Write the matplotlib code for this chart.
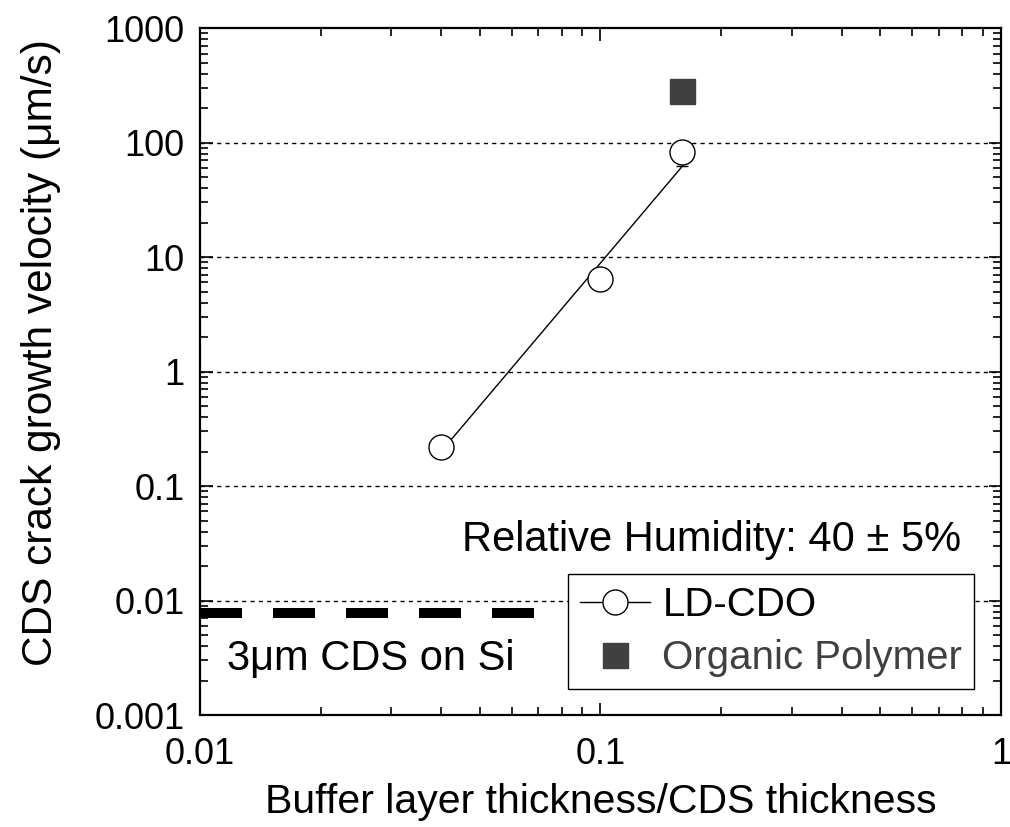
import matplotlib
matplotlib.use("Agg")
import matplotlib.pyplot as plt
from matplotlib.ticker import LogLocator, NullFormatter, FixedLocator, FixedFormatter

plt.rcParams["font.family"] = ["Liberation Sans", "DejaVu Sans"]

# ── data ────────────────────────────────────────────────────
ld_x = [0.04, 0.1, 0.16]
ld_y = [0.22, 6.5, 82]
fit_x = [0.04, 0.16]
fit_y = [0.2, 62]
poly_x = [0.16]
poly_y = [285]
si_x = [0.01, 0.0686]
si_y = [0.0078, 0.0078]

x_ticks = [0.01, 0.1, 1]
x_labels = ["0.01", "0.1", "1"]
y_ticks = [0.001, 0.01, 0.1, 1, 10, 100, 1000]
y_labels = ["0.001", "0.01", "0.1", "1", "10", "100", "1000"]

fig = plt.figure(figsize=(10.10, 8.27), dpi=100)
ax = fig.add_axes([0.198, 0.1354, 0.793, 0.8306])
ax.set_xscale("log")
ax.set_yscale("log")
ax.set_xlim(0.01, 1)
ax.set_ylim(0.001, 1000)

# horizontal grid at decades
for yv in y_ticks[1:-1]:
    ax.axhline(yv, color="black", lw=1.0, ls=(0, (3, 3)), zorder=1)

# 3 um CDS on Si reference level
ax.plot(si_x, si_y, color="black", lw=7.2, dashes=(4.2, 3.1),
        solid_capstyle="butt", dash_capstyle="butt", zorder=2)

# fit line + LD-CDO points
ax.plot(fit_x, fit_y, color="black", lw=1.0, zorder=3)
ax.errorbar([ld_x[2]], [ld_y[2]], yerr=[[ld_y[2] - fit_y[1]], [0]], fmt="none",
            ecolor="black", elinewidth=1.0, capsize=4, zorder=3)
ax.plot(ld_x, ld_y, ls="none", marker="o", ms=18, mfc="white", mec="black",
        mew=1.0, zorder=4)
ax.plot(poly_x, poly_y, ls="none", marker="s", ms=18, mfc="#404040",
        mec="#404040", zorder=4)

# legend handles
h1, = ax.plot([], [], color="black", lw=1.0, marker="o", ms=18, mfc="white",
              mec="black", mew=1.0)
h2, = ax.plot([], [], ls="none", marker="s", ms=18, mfc="#404040", mec="#404040")
leg = ax.legend([h1, h2], ["LD-CDO", "Organic Polymer"], loc="upper left",
                bbox_to_anchor=(0.459, 0.205), fontsize=29, frameon=True,
                fancybox=False, edgecolor="black", framealpha=1,
                handlelength=1.75, handletextpad=0.3, labelspacing=0.36,
                borderpad=0.3, borderaxespad=0)
leg.get_frame().set_linewidth(1.0)
leg.get_texts()[1].set_color("#404040")

ax.text(0.0451, 0.034, "Relative Humidity: 40 ± 5%", fontsize=30,
        ha="left", va="center")
ax.text(0.01168, 0.0031, "3\u03bcm CDS on Si", fontsize=30, ha="left",
        va="center")

# ticks
ax.xaxis.set_major_locator(FixedLocator(x_ticks))
ax.xaxis.set_major_formatter(FixedFormatter(x_labels))
ax.yaxis.set_major_locator(FixedLocator(y_ticks))
ax.yaxis.set_major_formatter(FixedFormatter(y_labels))
ax.xaxis.set_minor_locator(LogLocator(base=10, subs=range(2, 10)))
ax.yaxis.set_minor_locator(LogLocator(base=10, subs=range(2, 10)))
ax.xaxis.set_minor_formatter(NullFormatter())
ax.yaxis.set_minor_formatter(NullFormatter())
ax.tick_params(which="both", direction="in", top=True, right=True,
               labelsize=26, width=1.2)
ax.tick_params(which="major", length=9)
ax.tick_params(which="minor", length=6)
ax.tick_params(axis="y", which="major", pad=11)
ax.tick_params(axis="x", which="major", pad=16)
for sp in ax.spines.values():
    sp.set_linewidth(1.6)

ax.set_xlabel("Buffer layer thickness/CDS thickness", fontsize=29.5, labelpad=8)
ax.set_ylabel("CDS crack growth velocity (\u03bcm/s)", fontsize=30.5,
              labelpad=24, y=0.528)

fig.savefig("out.png", dpi=100)
